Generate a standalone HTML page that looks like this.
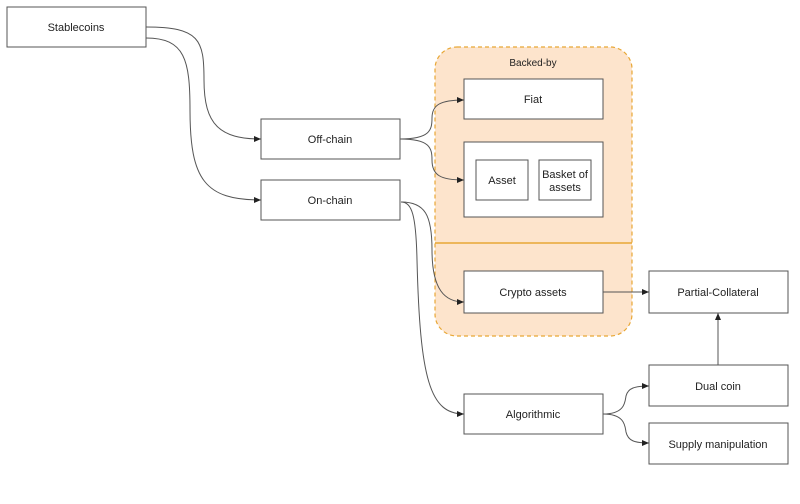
<!DOCTYPE html>
<html><head><meta charset="utf-8"><style>
html,body{margin:0;padding:0;background:#fff;}
svg{display:block;font-family:"Liberation Sans",sans-serif;}
</style></head><body>
<svg width="800" height="504" viewBox="0 0 800 504" xmlns="http://www.w3.org/2000/svg">
<defs><marker id="a" markerWidth="8" markerHeight="8" refX="7" refY="4" orient="auto" markerUnits="userSpaceOnUse"><path d="M0,1 L7,4 L0,7 Z" fill="#222"/></marker></defs>
<rect x="435" y="47" width="197" height="289" rx="22" fill="#fde4cc" stroke="#e8a735" stroke-width="1.2" stroke-dasharray="4,3"/>
<line x1="435" y1="243" x2="632" y2="243" stroke="#e8a735" stroke-width="1.5"/>
<text x="533" y="66" font-size="10" text-anchor="middle" fill="#222">Backed-by</text>
<g fill="#fff" stroke="#555" stroke-width="1">
<rect x="7" y="7" width="139" height="40"/>
<rect x="261" y="119" width="139" height="40"/>
<rect x="261" y="180" width="139" height="40"/>
<rect x="464" y="79" width="139" height="40"/>
<rect x="464" y="142" width="139" height="75"/>
<rect x="476" y="160" width="52" height="40"/>
<rect x="539" y="160" width="52" height="40"/>
<rect x="464" y="271" width="139" height="42"/>
<rect x="649" y="271" width="139" height="42"/>
<rect x="464" y="394" width="139" height="40"/>
<rect x="649" y="365" width="139" height="41"/>
<rect x="649" y="423" width="139" height="41"/>
</g>
<g fill="none" stroke="#555" stroke-width="1" marker-end="url(#a)">
<path d="M146,27 C200,27 204,40 204,80 C204,125 220,139 261,139"/>
<path d="M146,38 C185,38 190,60 190,110 C190,180 205,200 261,200"/>
<path d="M400,139 C430,139 432,130 432,118 C432,105 440,100 464,100"/>
<path d="M400,139 C430,139 432,148 432,160 C432,175 440,180 464,180"/>
<path d="M401,202 C425,202 432,215 432,250 C432,290 445,302 464,302"/>
<path d="M401,202 C412,202 416,215 417,260 C420,380 430,414 464,414"/>
<path d="M603,292 L649,292"/>
<path d="M718,365 L718,313"/>
<path d="M603,414 C625,414 625,402 626,396 C628,388 635,386 649,386"/>
<path d="M603,414 C625,414 625,426 626,432 C628,441 635,443 649,443"/>
</g>
<g font-size="11" fill="#222" text-anchor="middle">
<text x="76" y="31">Stablecoins</text>
<text x="330" y="143">Off-chain</text>
<text x="330" y="204">On-chain</text>
<text x="533" y="103">Fiat</text>
<text x="502" y="184">Asset</text>
<text x="565" y="178">Basket of</text>
<text x="565" y="191">assets</text>
<text x="533" y="296">Crypto assets</text>
<text x="718" y="296">Partial-Collateral</text>
<text x="533" y="418">Algorithmic</text>
<text x="718" y="390">Dual coin</text>
<text x="718" y="448">Supply manipulation</text>
</g>
</svg>
</body></html>
